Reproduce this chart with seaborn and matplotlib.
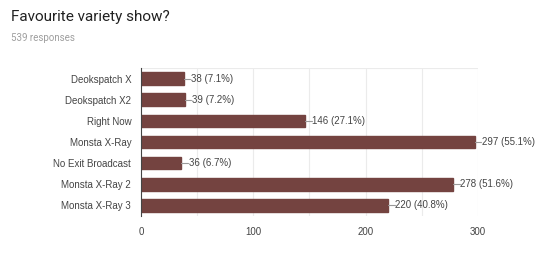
import matplotlib
matplotlib.use("Agg")
import matplotlib.pyplot as plt
import seaborn as sns
import pandas as pd

categories = ["Deokspatch X", "Deokspatch X2", "Right Now", "Monsta X-Ray",
              "No Exit Broadcast", "Monsta X-Ray 2", "Monsta X-Ray 3"]
counts = [38, 39, 146, 297, 36, 278, 220]
percents = ["7.1%", "7.2%", "27.1%", "55.1%", "6.7%", "51.6%", "40.8%"]
xticks = [0, 100, 200, 300]
total_responses = 539

sns.set_theme(style="white")
plt.rcParams['font.family'] = ['Liberation Sans', 'DejaVu Sans']

df = pd.DataFrame({"show": categories, "count": counts})

fig = plt.figure(figsize=(5.4, 2.57), dpi=100)
ax = fig.add_axes([0.261, 0.16, 0.624, 0.575])

sns.barplot(data=df, y="show", x="count", color="#744340", saturation=1,
            width=0.6, ax=ax, orient="h", edgecolor="#744340")

ax.set_xlim(0, 300)
for v in range(50, 301, 50):
    ax.axvline(v, color="#ebebeb", lw=0.8, zorder=0)
ax.axhline(-0.5, color="#ebebeb", lw=0.8, zorder=0)
ax.set_xticks(xticks)
ax.set_xticklabels([str(t) for t in xticks])
ax.set_ylim(len(categories) - 0.5, -0.5)
ax.set_xlabel("")
ax.set_ylabel("")
for s in ["top", "right", "bottom"]:
    ax.spines[s].set_visible(False)
ax.spines["left"].set_color("#444444")
ax.spines["left"].set_linewidth(0.8)
ax.tick_params(axis="both", length=0, labelsize=7, colors="#444444")
ax.tick_params(axis="y", pad=7)
ax.tick_params(axis="x", pad=8)

for i, (c, p) in enumerate(zip(counts, percents)):
    ax.plot([c, c + 6], [i, i], color="#9a9a9a", lw=0.8, clip_on=False)
    ax.text(c + 6.5, i, f"{c} ({p})", va="center", ha="left", fontsize=7,
            color="#444444", clip_on=False)

fig.text(0.02, 0.92, "Favourite variety show?", fontsize=11, color="#212121",
         ha="left", va="baseline", family=["Roboto", "DejaVu Sans"])
fig.text(0.02, 0.84, f"{total_responses} responses", fontsize=7, color="#9e9e9e",
         ha="left", va="baseline", family=["Roboto", "DejaVu Sans"])

fig.savefig("out.png", dpi=100)
